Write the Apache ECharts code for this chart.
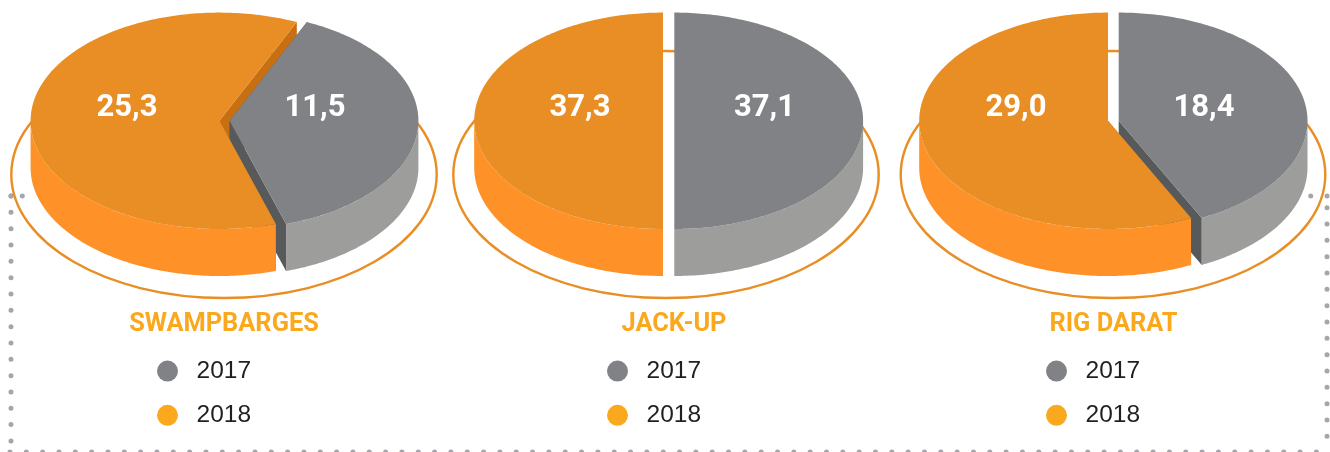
<!DOCTYPE html>
<html>
<head>
<meta charset="utf-8">
<title>Swampbarges, Jack-up, Rig Darat</title>
<script src="https://cdn.jsdelivr.net/npm/echarts@6/dist/echarts.min.js"></script>
<style>
html, body { margin: 0; padding: 0; background: #fff; }
#main { width: 1330px; height: 452px; }
</style>
</head>
<body>
<div id="main"></div>
<script>
var pieNames = ['SWAMPBARGES', 'JACK-UP', 'RIG DARAT'];
var yearNames = ['2017', '2018'];
var values2017 = [11.5, 37.1, 18.4];
var values2018 = [25.3, 37.3, 29.0];
// the picture's slices are not to scale with their printed labels,
// so the drawn edges are read off the picture (degrees clockwise from 12 o'clock)
var edge2017Start = [24.2, 0, 0];
var edge2017End = [162.6, 180, 153.9];

// layout
var hubX = { '2017': [229.6, 674.3, 1118.7], '2018': [219.4, 663, 1108] };
var labelX = { '2017': [315, 764.5, 1204], '2018': [127, 580, 1016] };
var ringX = [224, 666, 1113];
var titleX = [224, 674, 1113.5];
var legendX = [157, 607, 1046];
var hubY = 120.8, radiusX = 188.8, radiusY = 108.2, depth = 47, labelY = 108;

var colors = {
    '2017': { legend: '#808285', top: '#808285', wall: '#9d9d9c', face: '#58595b', faceZ: 2 },
    '2018': { legend: '#faa91e', top: '#e88e25', wall: '#fe9228', face: '#c87011', faceZ: 1 }
};

function rimPoint(cx, t, drop) {
    var rad = t * Math.PI / 180;
    return [cx + radiusX * Math.sin(rad), hubY - radiusY * Math.cos(rad) + drop];
}

function arcPoints(cx, from, to, drop) {
    var pts = [];
    var n = Math.max(2, Math.ceil(Math.abs(to - from)));
    for (var k = 0; k <= n; k++) {
        pts.push(rimPoint(cx, from + (to - from) * k / n, drop));
    }
    return pts;
}

function makeRenderItem(year) {
    var c = colors[year];
    return function (params, api) {
        var pie = api.value(0);
        var start = api.value(1);
        var end = api.value(2);
        var cx = hubX[year][pie];
        var hub = [cx, hubY];
        var children = [];

        // cut faces, the grey one sits over the orange one near the hub
        [start, end].forEach(function (t) {
            var a = rimPoint(cx, t, 0);
            children.push({
                type: 'polygon',
                z2: c.faceZ,
                shape: { points: [hub, a, [a[0], a[1] + depth], [cx, hubY + depth]] },
                style: { fill: c.face }
            });
        });

        // only the front half of the rim has a visible wall
        var wallFrom = Math.max(start, 90);
        var wallTo = Math.min(end, 270);
        if (wallTo > wallFrom) {
            children.push({
                type: 'polygon',
                z2: 3,
                shape: { points: arcPoints(cx, wallFrom, wallTo, 0).concat(arcPoints(cx, wallTo, wallFrom, depth)) },
                style: { fill: c.wall }
            });
        }

        children.push({
            type: 'polygon',
            z2: 4,
            shape: { points: [hub].concat(arcPoints(cx, start, end, 0)) },
            style: { fill: c.top }
        });

        children.push({
            type: 'text',
            z2: 5,
            style: {
                x: labelX[year][pie],
                y: labelY,
                text: api.value(3).toFixed(1).replace('.', ','),
                fill: '#fff',
                font: 'bold 31px Roboto',
                align: 'center',
                verticalAlign: 'middle'
            }
        });
        return { type: 'group', children: children };
    };
}

var data2017 = pieNames.map(function (n, i) {
    return [i, edge2017Start[i], edge2017End[i], values2017[i]];
});
// 2018 takes the rest of the ellipse
var data2018 = pieNames.map(function (n, i) {
    return [i, edge2017End[i], edge2017Start[i] + 360, values2018[i]];
});

var dotStyle = { fill: null, stroke: '#a7a5a9', lineWidth: 5, lineCap: 'round', lineDash: [0, 16.33] };
var ringStyle = { fill: null, stroke: '#e88e25', lineWidth: 2.4 };

var myChart = echarts.init(document.getElementById('main'));
var option = {
    backgroundColor: '#fff',
    animation: false,
    title: pieNames.map(function (name, i) {
        return {
            text: name,
            left: titleX[i],
            top: 312,
            padding: 0,
            textAlign: 'center',
            textStyle: { color: '#faa91e', fontFamily: 'Roboto', fontWeight: 'bold', fontSize: 25.4 }
        };
    }),
    legend: pieNames.map(function (name, i) {
        return {
            left: legendX[i],
            top: 358.6,
            padding: 0,
            orient: 'vertical',
            selectedMode: false,
            icon: 'circle',
            itemWidth: 48,
            itemHeight: 21,
            itemGap: 19.2,
            textStyle: { color: '#231f20', fontFamily: 'Liberation Sans', fontSize: 24.5 },
            data: yearNames
        };
    }),
    graphic: [
        // rings under the pies
        { type: 'ellipse', z: 1, shape: { cx: ringX[0], cy: 174.5, rx: 212.7, ry: 123.5 }, style: ringStyle },
        { type: 'ellipse', z: 1, shape: { cx: ringX[1], cy: 174.5, rx: 212.7, ry: 123.5 }, style: ringStyle },
        { type: 'ellipse', z: 1, shape: { cx: ringX[2], cy: 174.5, rx: 212.3, ry: 123.5 }, style: ringStyle },
        // dotted frame
        { type: 'polyline', z: 0, shape: { points: [[11, 196], [11, 442.5]] }, style: dotStyle },
        { type: 'polyline', z: 0, shape: { points: [[11, 196], [22.6, 196]] }, style: Object.assign({}, dotStyle, { lineDash: [0, 11.3] }) },
        { type: 'polyline', z: 0, shape: { points: [[10, 452], [1322, 452]] }, style: dotStyle },
        { type: 'polyline', z: 0, shape: { points: [[1327, 207.7], [1327, 438]] }, style: dotStyle },
        { type: 'polyline', z: 0, shape: { points: [[1310.7, 196], [1327.5, 196]] }, style: dotStyle }
    ],
    series: [
        { name: yearNames[0], type: 'custom', coordinateSystem: 'none', z: 2, silent: true, itemStyle: { color: colors['2017'].legend }, renderItem: makeRenderItem('2017'), data: data2017 },
        { name: yearNames[1], type: 'custom', coordinateSystem: 'none', z: 2, silent: true, itemStyle: { color: colors['2018'].legend }, renderItem: makeRenderItem('2018'), data: data2018 }
    ]
};
myChart.setOption(option);
</script>
</body>
</html>
